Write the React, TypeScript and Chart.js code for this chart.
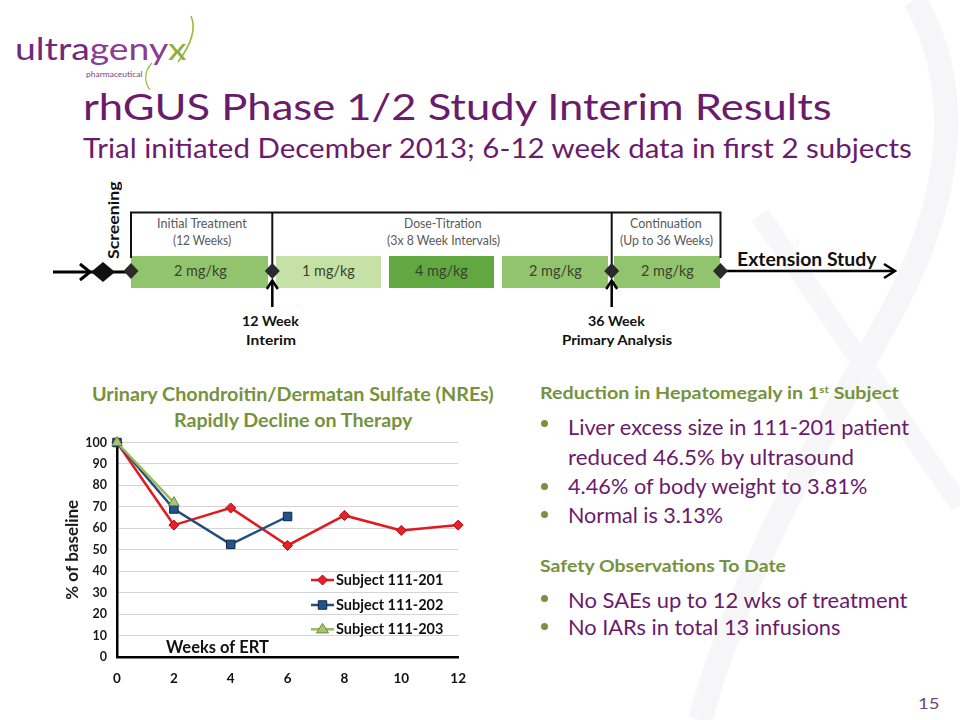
import React, { useEffect, useLayoutEffect, useRef } from "react";
import { Chart, registerables } from "chart.js";

Chart.register(...registerables);

// ---------- data ----------
const weeks = [0, 2, 4, 6, 8, 10, 12];
const subject201 = [100, 61.5, 69.5, 52, 66, 59, 61.5];
const subject202 = [100, 69, 52.5, 65.5];
const subject203 = [100, 72];
const seriesNames = ["Subject 111-201", "Subject 111-202", "Subject 111-203"];
const yAxisTitle = "% of baseline";
const xAxisNote = "Weeks of ERT";

const RED = "#e5181f";
const BLUE = "#1f4e79";
const OLIVE = "#9bbb59";

const FONT = "Lato, 'Open Sans', sans-serif";
const PURPLE = "#6a1b6b";
const GREEN_HEAD = "#76923c";

type FitProps = {
  x: number;
  base: number;
  w: number;
  size: number;
  weight?: number | string;
  color?: string;
  center?: boolean;
  children: React.ReactNode;
  family?: string;
};

function Fit({ x, base, w, size, weight = 400, color = "#000", center = false, children, family = FONT }: FitProps) {
  const ref = useRef<HTMLSpanElement>(null);
  useLayoutEffect(() => {
    const fit = () => {
      const el = ref.current;
      if (!el) return;
      const nat = el.offsetWidth;
      if (nat > 0) el.style.transform = `scaleX(${w / nat})`;
    };
    fit();
    if ((document as any).fonts && (document as any).fonts.ready) {
      (document as any).fonts.ready.then(fit);
    }
  });
  const left = center ? x - w / 2 : x;
  return (
    <span
      ref={ref}
      style={{
        position: "absolute",
        left,
        top: base - 0.887 * size,
        fontSize: size,
        lineHeight: 1,
        fontFamily: family,
        fontWeight: weight as any,
        color,
        whiteSpace: "nowrap",
        transformOrigin: "0 0",
      }}
    >
      {children}
    </span>
  );
}

function drawMarker(ctx: CanvasRenderingContext2D, style: string, x: number, y: number, r: number, fill: string, stroke: string) {
  ctx.save();
  ctx.fillStyle = fill;
  ctx.strokeStyle = stroke;
  ctx.lineWidth = 1;
  ctx.beginPath();
  if (style === "rectRot") {
    ctx.moveTo(x, y - r);
    ctx.lineTo(x + r, y);
    ctx.lineTo(x, y + r);
    ctx.lineTo(x - r, y);
    ctx.closePath();
  } else if (style === "rect") {
    const s = r * Math.SQRT1_2;
    ctx.rect(x - s, y - s, 2 * s, 2 * s);
  } else {
    const h = r * 1.5;
    ctx.moveTo(x, y - r);
    ctx.lineTo(x + h * 0.577 * 1.15, y + r * 0.6);
    ctx.lineTo(x - h * 0.577 * 1.15, y + r * 0.6);
    ctx.closePath();
  }
  ctx.fill();
  ctx.stroke();
  ctx.restore();
}

function LineChart() {
  const canvasRef = useRef<HTMLCanvasElement>(null);
  useEffect(() => {
    const canvas = canvasRef.current;
    if (!canvas) return;

    const overlay = {
      id: "overlay",
      afterDraw(chart: any) {
        const ctx: CanvasRenderingContext2D = chart.ctx;
        const area = chart.chartArea;
        ctx.save();
        ctx.fillStyle = "#111";
        ctx.font = `bold 16.5px ${FONT}`;
        ctx.textBaseline = "middle";
        ctx.textAlign = "left";
        ctx.fillText(xAxisNote, area.left + 49, area.bottom - 9.5);
        const rows = [area.bottom - 77, area.bottom - 52, area.bottom - 27.7];
        const x1 = area.left + 194;
        const x2 = area.left + 217;
        chart.data.datasets.forEach((ds: any, i: number) => {
          const y = rows[i];
          ctx.save();
          ctx.strokeStyle = ds.borderColor;
          ctx.lineWidth = 2.5;
          ctx.beginPath();
          ctx.moveTo(x1, y);
          ctx.lineTo(x2, y);
          ctx.stroke();
          ctx.restore();
          drawMarker(ctx, ds.pointStyle, (x1 + x2) / 2, y, ds.pointRadius, ds.pointBackgroundColor, ds.pointBorderColor);
          ctx.fillStyle = "#111";
          ctx.font = `bold 14.5px ${FONT}`;
          ctx.textBaseline = "middle";
          ctx.fillText(ds.label, x2 + 2, y + 0.5);
        });
        ctx.restore();
      },
    };

    const chart = new Chart(canvas, {
      type: "line",
      data: {
        datasets: [
          {
            label: seriesNames[0],
            data: subject201.map((v, i) => ({ x: weeks[i], y: v })),
            borderColor: RED,
            backgroundColor: RED,
            pointStyle: "rectRot",
            pointRadius: 5,
            pointBackgroundColor: "#e8202a",
            pointBorderColor: "#a50d12",
            pointBorderWidth: 1,
            borderWidth: 2.5,
            clip: false,
            order: 3,
          } as any,
          {
            label: seriesNames[1],
            data: subject202.map((v, i) => ({ x: weeks[i], y: v })),
            borderColor: BLUE,
            backgroundColor: BLUE,
            pointStyle: "rect",
            pointRadius: 6,
            pointBackgroundColor: "#24538a",
            pointBorderColor: "#0e2740",
            pointBorderWidth: 1,
            borderWidth: 2.5,
            clip: false,
            order: 2,
          } as any,
          {
            label: seriesNames[2],
            data: subject203.map((v, i) => ({ x: weeks[i], y: v })),
            borderColor: OLIVE,
            backgroundColor: OLIVE,
            pointStyle: "triangle",
            pointRadius: 6,
            pointBackgroundColor: "#a8c47c",
            pointBorderColor: "#6d8a35",
            pointBorderWidth: 1,
            borderWidth: 2.5,
            clip: false,
            order: 1,
          } as any,
        ],
      },
      options: {
        responsive: false,
        animation: false,
        devicePixelRatio: 1,
        layout: { padding: { top: 16.7, left: 18.4, right: 21, bottom: 0 } },
        plugins: { legend: { display: false }, tooltip: { enabled: false } },
        elements: { line: { tension: 0 } },
        scales: {
          x: {
            type: "linear",
            min: 0,
            max: 12,
            ticks: {
              stepSize: 2,
              color: "#111",
              padding: 14,
              font: { family: FONT, weight: "bold", size: 13.5 },
            },
            grid: { display: false, drawTicks: false },
            border: { display: true, color: "#000", width: 2.5 },
            afterFit: (s: any) => {
              s.height = 43;
            },
          },
          y: {
            min: 0,
            max: 100,
            ticks: {
              stepSize: 10,
              color: "#1a1a1a",
              padding: 10,
              font: { family: FONT, weight: "bold", size: 12.5 },
            },
            grid: { color: "#d4d4d4", lineWidth: 1, drawTicks: false },
            border: { display: true, color: "#000", width: 2.5 },
            title: {
              display: true,
              text: yAxisTitle,
              color: "#1a1a1a",
              padding: { top: 4, bottom: 4 },
              font: { family: FONT, weight: "bold", size: 17 },
            },
            afterFit: (s: any) => {
              s.width = 58.6;
            },
          },
        },
      } as any,
      plugins: [overlay],
    });
    return () => chart.destroy();
  }, []);
  return (
    <canvas
      ref={canvasRef}
      width={440}
      height={275}
      style={{ position: "absolute", left: 40, top: 425, width: 440, height: 275 }}
    />
  );
}

function Timeline() {
  const diamond = (cx: number, cy: number, hw: number, hh: number) =>
    `${cx - hw},${cy} ${cx},${cy - hh} ${cx + hw},${cy} ${cx},${cy + hh}`;
  return (
    <svg width={960} height={720} style={{ position: "absolute", left: 0, top: 0 }}>
      {/* watermark */}
      <path d="M 915 0 C 965 90, 955 200, 885 325 C 820 440, 745 560, 700 720" stroke="#f6f6f8" strokeWidth={24} fill="none" />
      <path d="M 760 215 L 960 505" stroke="#f7f7f9" strokeWidth={20} fill="none" />
      {/* bars */}
      <rect x={131} y={256} width={137} height={32} fill="#92c46e" />
      <rect x={276} y={256} width={105} height={32} fill="#c5e1a6" />
      <rect x={389} y={256} width={105} height={32} fill="#62a840" />
      <rect x={502} y={256} width={106} height={32} fill="#92c46e" />
      <rect x={614} y={256} width={106} height={32} fill="#92c46e" />
      {/* bracket */}
      <polyline points="131,258 131,212.5 720.5,212.5 720.5,258" stroke="#111" strokeWidth={2} fill="none" />
      <line x1={272.3} y1={212} x2={272.3} y2={268} stroke="#111" strokeWidth={2} />
      <line x1={611.7} y1={212} x2={611.7} y2={268} stroke="#111" strokeWidth={2} />
      {/* left arrow */}
      <line x1={53} y1={272} x2={131} y2={272} stroke="#000" strokeWidth={3} />
      <polyline points="80,264 90,272 80,280" stroke="#000" strokeWidth={3} fill="none" />
      <polygon points={diamond(103, 272, 12, 10)} fill="#111" />
      {/* right arrow */}
      <line x1={720} y1={271} x2={895} y2={271} stroke="#000" strokeWidth={2.5} />
      <polyline points="884,264 895,271 884,278" stroke="#000" strokeWidth={2.5} fill="none" />
      {/* diamonds */}
      {[131, 272.3, 611.7, 720.5].map((x) => (
        <polygon key={x} points={diamond(x, 271, 7.5, 8)} fill="#2a2a2a" />
      ))}
      {/* up arrows */}
      {[272.3, 611.7].map((x) => (
        <g key={"a" + x}>
          <line x1={x} y1={307} x2={x} y2={281} stroke="#000" strokeWidth={2.5} />
          <polyline points={`${x - 5.5},289 ${x},280.5 ${x + 5.5},289`} stroke="#000" strokeWidth={2.5} fill="none" />
        </g>
      ))}
      {/* logo swoosh */}
      <path d="M 191 16 C 197 30, 190 46, 178 62" stroke="#9cba3c" strokeWidth={1.6} fill="none" />
      <path d="M 152 63 C 144 71, 144 82, 150 90" stroke="#9cba3c" strokeWidth={1.2} fill="none" />
    </svg>
  );
}

export default function App() {
  const tlHead = "#5a5a5a";
  const dose = "#36452a";
  const bulletDots = [423.3, 486.7, 514, 598.3, 626.3];
  return (
    <div style={{ position: "absolute", left: 0, top: 0, width: 960, height: 720, background: "#fff", overflow: "hidden" }}>
      <Timeline />

      {/* logo */}
      <Fit x={15} base={60} w={172} size={31} weight={400} color="#6e2a7c">
        <span>ultra</span>
        <span style={{ color: "#8a3d92" }}>geny</span>
        <span style={{ color: "#8fae3a" }}>x</span>
      </Fit>
      <Fit x={86} base={77} w={56} size={8} color="#7a3a86">pharmaceutical</Fit>

      {/* title */}
      <Fit x={83} base={120} w={749} size={36} color={PURPLE}>rhGUS Phase 1/2 Study Interim Results</Fit>
      <Fit x={83} base={158} w={829} size={26} color={PURPLE}>Trial initiated December 2013; 6-12 week data in first 2 subjects</Fit>

      {/* timeline texts */}
      <div
        style={{
          position: "absolute",
          left: 114 - 40,
          top: 221 - 9,
          width: 80,
          height: 18,
          transform: "rotate(-90deg)",
          transformOrigin: "40px 9px",
        }}
      >
        <Fit x={1.5} base={14} w={77} size={15} weight={700} color="#111">Screening</Fit>
      </div>
      <Fit x={201.7} center base={229} w={90} size={12.5} color={tlHead}>Initial Treatment</Fit>
      <Fit x={201.7} center base={245.7} w={58} size={12.5} color={tlHead}>(12 Weeks)</Fit>
      <Fit x={443} center base={229} w={78} size={12.5} color={tlHead}>Dose-Titration</Fit>
      <Fit x={443} center base={245.7} w={113} size={12.5} color={tlHead}>(3x 8 Week Intervals)</Fit>
      <Fit x={666} center base={229} w={72} size={12.5} color={tlHead}>Continuation</Fit>
      <Fit x={666} center base={245.7} w={93} size={12.5} color={tlHead}>(Up to 36 Weeks)</Fit>

      <Fit x={200} center base={277} w={53} size={15.5} color={dose}>2 mg/kg</Fit>
      <Fit x={328.5} center base={277} w={53} size={15.5} color={dose}>1 mg/kg</Fit>
      <Fit x={441.5} center base={277} w={53} size={15.5} color={dose}>4 mg/kg</Fit>
      <Fit x={555} center base={277} w={53} size={15.5} color={dose}>2 mg/kg</Fit>
      <Fit x={667} center base={277} w={53} size={15.5} color={dose}>2 mg/kg</Fit>

      <Fit x={737} base={266} w={140} size={18} weight={700} color="#111">Extension Study</Fit>

      <Fit x={270.8} center base={326.7} w={57} size={14} weight={700} color="#111">12 Week</Fit>
      <Fit x={271} center base={345} w={50} size={14} weight={700} color="#111">Interim</Fit>
      <Fit x={616.7} center base={326.7} w={57} size={14} weight={700} color="#111">36 Week</Fit>
      <Fit x={617} center base={345} w={110.6} size={14} weight={700} color="#111">Primary Analysis</Fit>

      {/* chart title */}
      <Fit x={91.7} base={400.7} w={402} size={18} weight={700} color={GREEN_HEAD}>Urinary Chondroitin/Dermatan Sulfate (NREs)</Fit>
      <Fit x={174} base={426.7} w={238} size={18} weight={700} color={GREEN_HEAD}>Rapidly Decline on Therapy</Fit>

      <LineChart />

      {/* right column */}
      <Fit x={540} base={399} w={359} size={17} weight={700} color={GREEN_HEAD}>
        Reduction in Hepatomegaly in 1
        <span style={{ fontSize: "0.6em", verticalAlign: "0.6em", lineHeight: 0 }}>st</span> Subject
      </Fit>
      <Fit x={568} base={435} w={341} size={21} color={PURPLE}>Liver excess size in 111-201 patient</Fit>
      <Fit x={568} base={464.3} w={286} size={21} color={PURPLE}>reduced 46.5% by ultrasound</Fit>
      <Fit x={568} base={494} w={299} size={21} color={PURPLE}>4.46% of body weight to 3.81%</Fit>
      <Fit x={568} base={522.7} w={155} size={21} color={PURPLE}>Normal is 3.13%</Fit>
      <Fit x={540} base={572.3} w={246} size={17} weight={700} color={GREEN_HEAD}>Safety Observations To Date</Fit>
      <Fit x={568} base={607.3} w={339} size={21} color={PURPLE}>No SAEs up to 12 wks of treatment</Fit>
      <Fit x={568} base={635} w={272} size={21} color={PURPLE}>No IARs in total 13 infusions</Fit>
      {bulletDots.map((y) => (
        <div
          key={y}
          style={{
            position: "absolute",
            left: 544 - 3.5,
            top: y - 3.5,
            width: 7,
            height: 7,
            borderRadius: "50%",
            background: "#77933c",
          }}
        />
      ))}

      <Fit x={918} base={709} w={22} size={16} color="#6b4a6e">15</Fit>
    </div>
  );
}
